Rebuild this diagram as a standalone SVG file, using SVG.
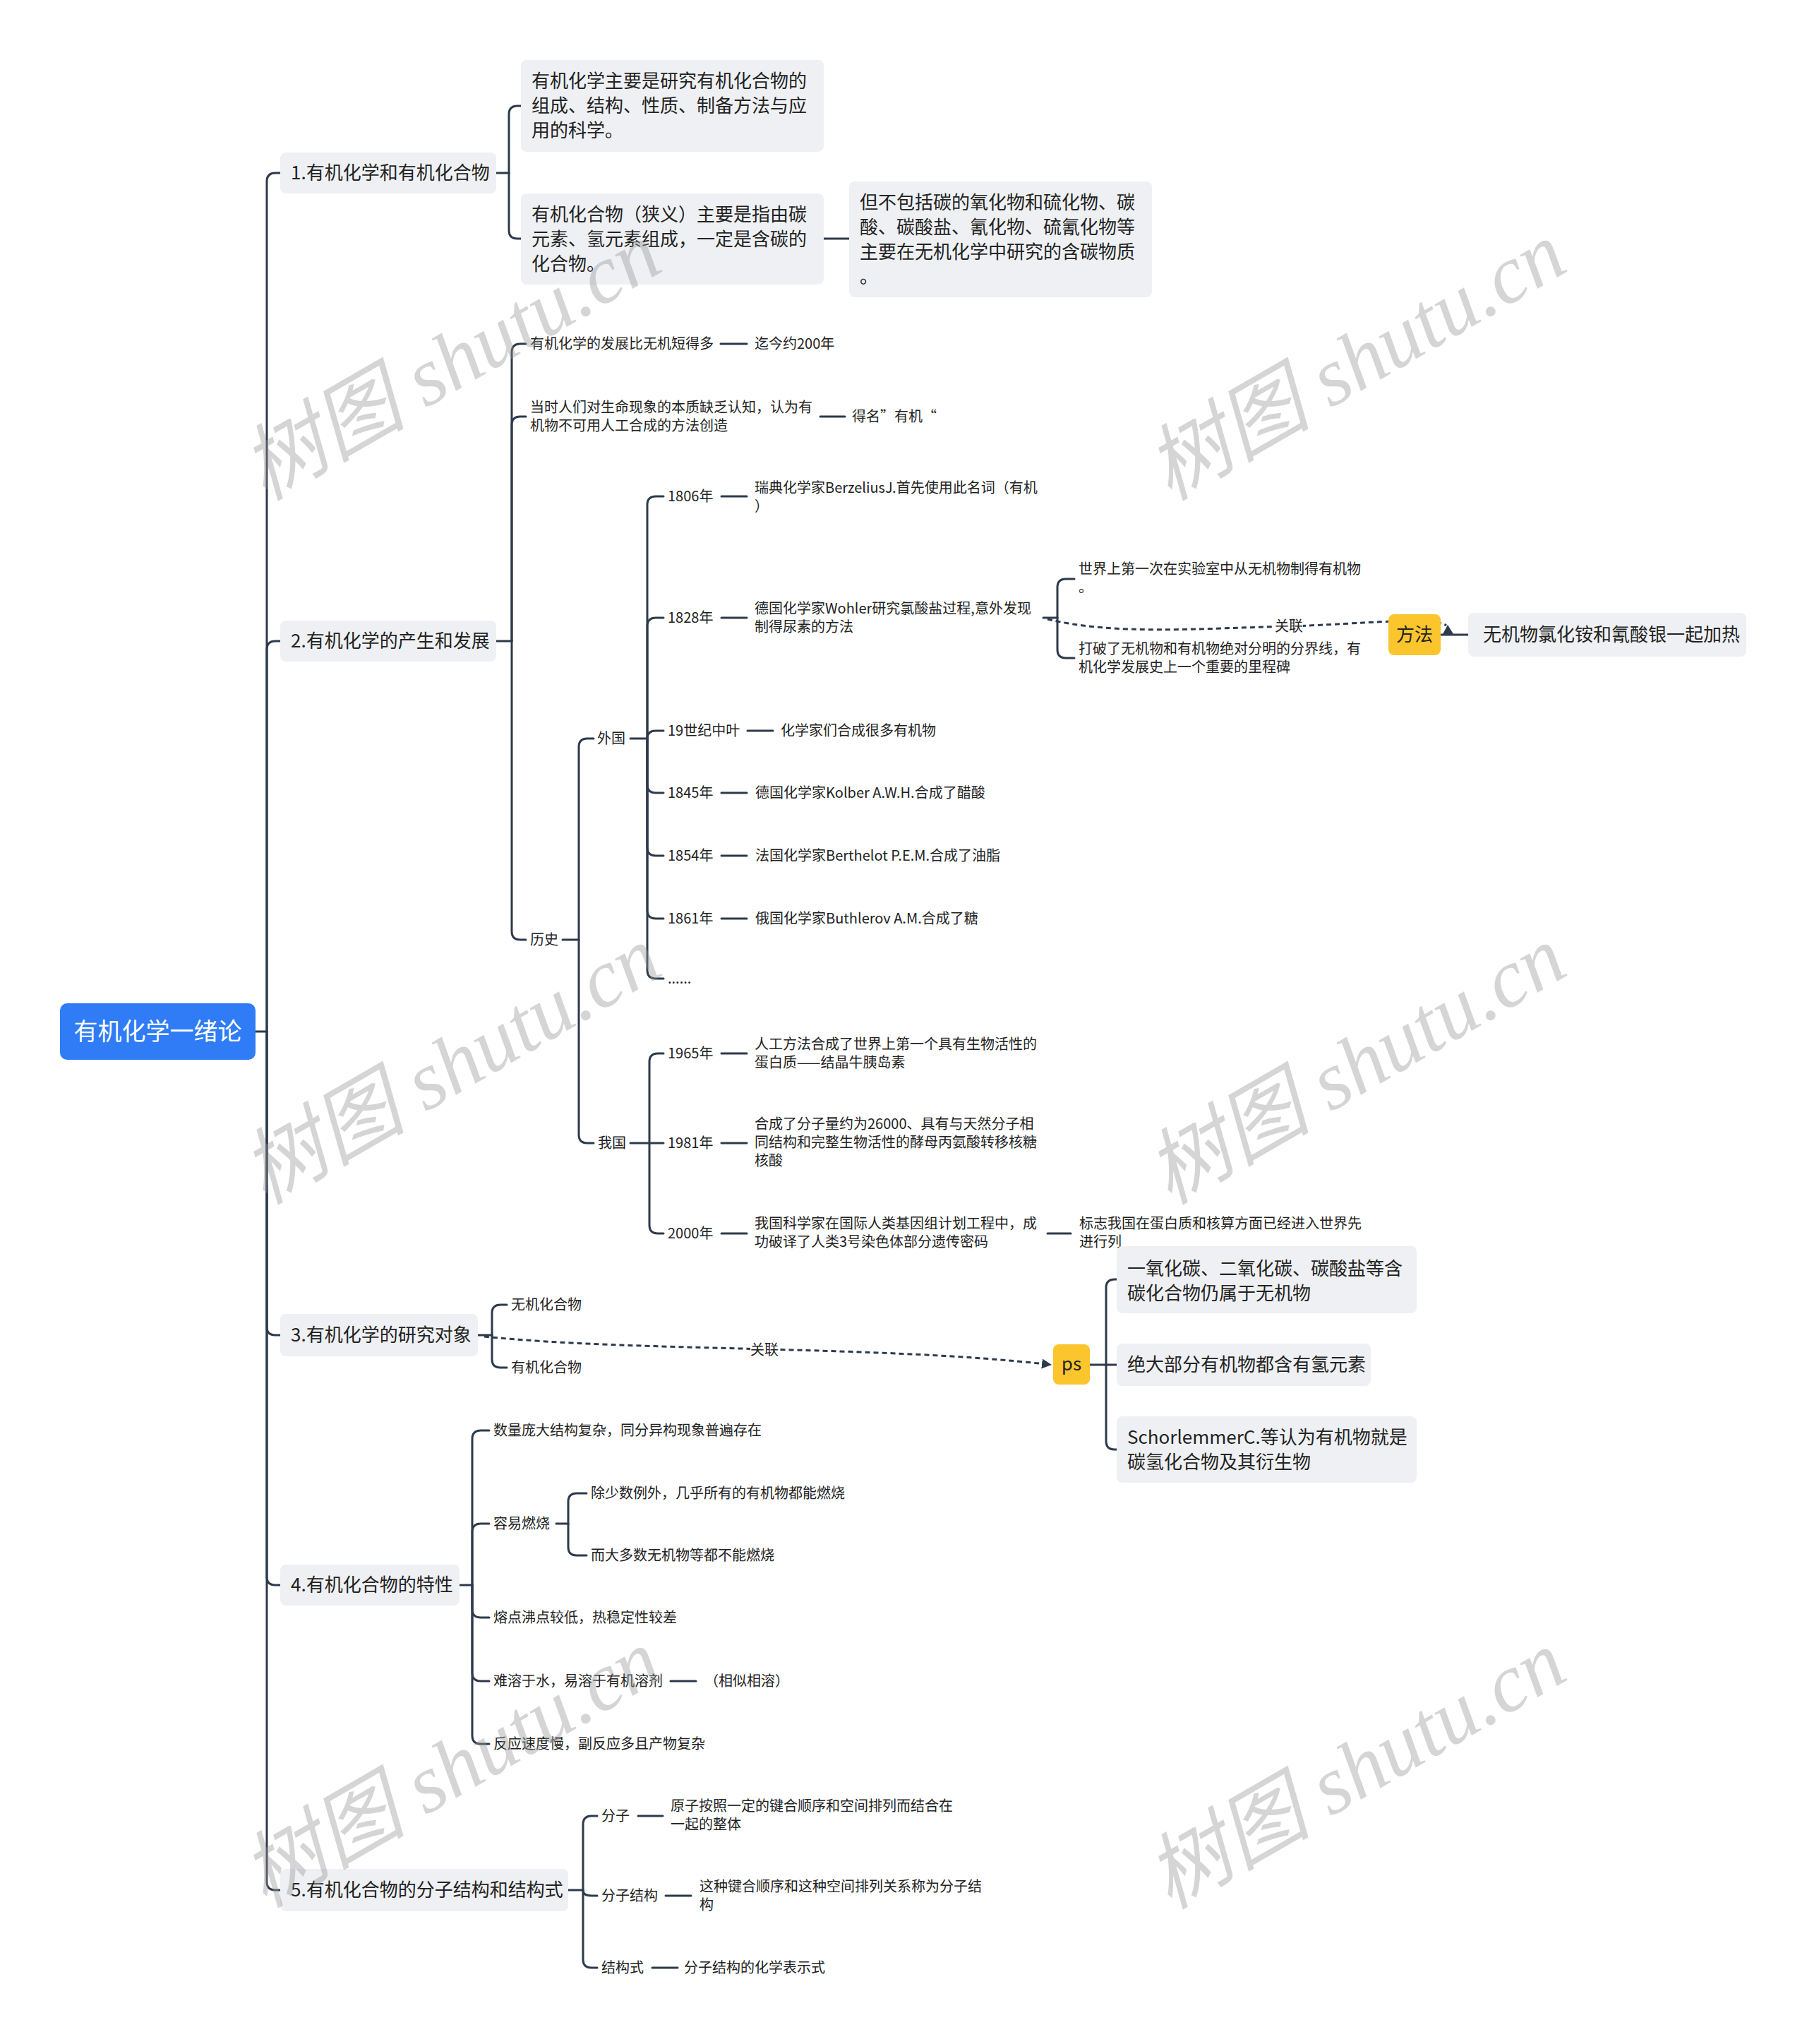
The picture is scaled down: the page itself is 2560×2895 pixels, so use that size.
<svg xmlns="http://www.w3.org/2000/svg" width="2560" height="2895" viewBox="0 0 2560 2895">
<style>
text{font-family:"Noto Sans CJK SC","Liberation Sans",sans-serif;fill:#222}
.s{font-size:20px}
.m{font-size:26px}
.l{fill:none;stroke:#2D3A4B;stroke-width:3;stroke-linecap:round;stroke-linejoin:round}
.d{fill:none;stroke:#2D3A4B;stroke-width:3;stroke-dasharray:7 5}
.b{fill:#EEF0F3}
.y{fill:#FBC52D}
.wm{font-family:"Liberation Serif","Noto Sans CJK SC",serif;font-style:italic;font-size:117px;fill:#969696;fill-opacity:0.4}
</style>
<defs>
<marker id="arr" markerWidth="16" markerHeight="16" refX="13" refY="8" orient="auto" markerUnits="userSpaceOnUse"><path d="M0,1 L14,8 L0,15 z" fill="#2D3A4B"/></marker>
</defs>
<rect width="2560" height="2895" fill="#FFFFFF"/>

<g id="connectors">
<path class="l" d="M362,1461 H378"/>
<path class="l" d="M378,1461 V257 Q378,245 390,245 H397"/>
<path class="l" d="M378,1461 V920 Q378,908 390,908 H397"/>
<path class="l" d="M378,1461 V1879 Q378,1891 390,1891 H397"/>
<path class="l" d="M378,1461 V2233 Q378,2245 390,2245 H397"/>
<path class="l" d="M378,1461 V2665 Q378,2677 390,2677 H397"/>
<path class="l" d="M703,245 H721"/>
<path class="l" d="M721,245 V162 Q721,150 733,150 H738"/>
<path class="l" d="M721,245 V326 Q721,338 733,338 H738"/>
<path class="l" d="M1167,338 H1203"/>
<path class="l" d="M703,908 H725"/>
<path class="l" d="M725,908 V499 Q725,487 737,487 H745"/>
<path class="l" d="M725,908 V602 Q725,590 737,590 H745"/>
<path class="l" d="M725,908 V1319 Q725,1331 737,1331 H745"/>
<path class="l" d="M1021,487 H1058"/>
<path class="l" d="M1162,590 H1197"/>
<path class="l" d="M797,1331 H820"/>
<path class="l" d="M820,1331 V1058 Q820,1046 832,1046 H841"/>
<path class="l" d="M820,1331 V1607 Q820,1619 832,1619 H841"/>
<path class="l" d="M893,1046 H917"/>
<path class="l" d="M917,1046 V715 Q917,703 929,703 H940"/>
<path class="l" d="M917,1046 V887 Q917,875 929,875 H940"/>
<path class="l" d="M917,1046 Q917,1035 929,1035 H940"/>
<path class="l" d="M917,1046 V1111 Q917,1123 929,1123 H940"/>
<path class="l" d="M917,1046 V1200 Q917,1212 929,1212 H940"/>
<path class="l" d="M917,1046 V1289 Q917,1301 929,1301 H940"/>
<path class="l" d="M917,1046 V1374 Q917,1386 929,1386 H940"/>
<path class="l" d="M1022,703 H1058"/>
<path class="l" d="M1022,875 H1058"/>
<path class="l" d="M1059,1035 H1095"/>
<path class="l" d="M1022,1123 H1058"/>
<path class="l" d="M1022,1212 H1058"/>
<path class="l" d="M1022,1301 H1058"/>
<path class="l" d="M1478,875 H1498"/>
<path class="l" d="M1498,875 V832 Q1498,820 1510,820 H1522"/>
<path class="l" d="M1498,875 V920 Q1498,932 1510,932 H1522"/>
<path class="l" d="M893,1619 H920"/>
<path class="l" d="M920,1619 V1504 Q920,1492 932,1492 H940"/>
<path class="l" d="M920,1619 H940"/>
<path class="l" d="M920,1619 V1735 Q920,1747 932,1747 H940"/>
<path class="l" d="M1022,1492 H1058"/>
<path class="l" d="M1022,1619 H1058"/>
<path class="l" d="M1022,1747 H1058"/>
<path class="l" d="M1484,1747 H1517"/>
<path class="l" d="M677,1891 H697"/>
<path class="l" d="M697,1891 V1860 Q697,1848 709,1848 H718"/>
<path class="l" d="M697,1891 V1925 Q697,1937 709,1937 H718"/>
<path class="l" d="M1544,1933 H1567"/>
<path class="l" d="M1567,1933 V1824 Q1567,1812 1579,1812 H1582"/>
<path class="l" d="M1567,1933 H1582"/>
<path class="l" d="M1567,1933 V2041 Q1567,2053 1579,2053 H1582"/>
<path class="l" d="M651,2245 H669"/>
<path class="l" d="M669,2245 V2038 Q669,2026 681,2026 H693"/>
<path class="l" d="M669,2245 V2170 Q669,2158 681,2158 H693"/>
<path class="l" d="M669,2245 V2279 Q669,2291 681,2291 H693"/>
<path class="l" d="M669,2245 V2369 Q669,2381 681,2381 H693"/>
<path class="l" d="M669,2245 V2458 Q669,2470 681,2470 H693"/>
<path class="l" d="M788,2158 H805"/>
<path class="l" d="M805,2158 V2127 Q805,2115 817,2115 H831"/>
<path class="l" d="M805,2158 V2191 Q805,2203 817,2203 H831"/>
<path class="l" d="M950,2381 H986"/>
<path class="l" d="M805,2677 H826"/>
<path class="l" d="M826,2677 V2584 Q826,2572 838,2572 H846"/>
<path class="l" d="M826,2677 Q826,2685 838,2685 H846"/>
<path class="l" d="M826,2677 V2775 Q826,2787 838,2787 H846"/>
<path class="l" d="M904,2572 H939"/>
<path class="l" d="M943,2685 H979"/>
<path class="l" d="M924,2787 H960"/>
<path class="l" d="M2041,899 H2080"/>
<path class="d" d="M1484,877 C1580,900 1700,890 1825,887 C1930,884 2030,872 2049,886"/>
<polygon points="2051,885 2044,898 2059,898" fill="#2D3A4B"/>
<rect x="1806" y="876" width="40" height="22" fill="#FFFFFF"/>
<text class="s" x="1826" y="894" text-anchor="middle">关联</text>
<path class="d" d="M686,1893 C900,1915 1250,1905 1489,1933" marker-end="url(#arr)"/>
<rect x="1063" y="1901" width="40" height="22" fill="#FFFFFF"/>
<text class="s" x="1083" y="1919" text-anchor="middle">关联</text>
</g>

<g id="root">
<rect x="85" y="1421" width="277" height="80" rx="10" fill="#2F7CF6"/>
<text x="223.5" y="1473" text-anchor="middle" style="font-size:34px;fill:#FFFFFF">有机化学一绪论</text>
</g>

<g id="n1">
<rect class="b" x="397" y="216" width="306" height="58" rx="8"/>
<text class="m" x="412" y="254">1.有机化学和有机化合物</text>
</g>
<g id="n1a">
<rect class="b" x="738" y="85" width="429" height="130" rx="8"/>
<text class="m" x="753" y="124">有机化学主要是研究有机化合物的</text>
<text class="m" x="753" y="159">组成、结构、性质、制备方法与应</text>
<text class="m" x="753" y="194">用的科学。</text>
</g>
<g id="n1b">
<rect class="b" x="738" y="274" width="429" height="129" rx="8"/>
<text class="m" x="753" y="313">有机化合物（狭义）主要是指由碳</text>
<text class="m" x="753" y="348">元素、氢元素组成，一定是含碳的</text>
<text class="m" x="753" y="383">化合物。</text>
</g>
<g id="n1c">
<rect class="b" x="1203" y="257" width="429" height="164" rx="8"/>
<text class="m" x="1218" y="296">但不包括碳的氧化物和硫化物、碳</text>
<text class="m" x="1218" y="331">酸、碳酸盐、氰化物、硫氰化物等</text>
<text class="m" x="1218" y="366">主要在无机化学中研究的含碳物质</text>
<text class="m" x="1218" y="401">。</text>
</g>

<g id="n2">
<rect class="b" x="397" y="879" width="306" height="58" rx="8"/>
<text class="m" x="412" y="917">2.有机化学的产生和发展</text>
</g>
<g id="n2-1"><text class="s" x="751" y="494">有机化学的发展比无机短得多</text></g>
<g id="n2-1a"><text class="s" x="1069" y="494">迄今约200年</text></g>
<g id="n2-2"><text class="s" x="751" y="584">当时人们对生命现象的本质缺乏认知，认为有</text><text class="s" x="751" y="610">机物不可用人工合成的方法创造</text></g>
<g id="n2-2a"><text class="s" x="1207" y="597">得名”有机“</text></g>
<g id="n2-3"><text class="s" x="751" y="1338">历史</text></g>
<g id="n-wg"><text class="s" x="846" y="1053">外国</text></g>
<g id="n-1806"><text class="s" x="946" y="710">1806年</text></g>
<g id="n-1806a"><text class="s" x="1069" y="698">瑞典化学家BerzeliusJ.首先使用此名词（有机</text><text class="s" x="1069" y="724">）</text></g>
<g id="n-1828"><text class="s" x="946" y="882">1828年</text></g>
<g id="n-1828a"><text class="s" x="1069" y="869">德国化学家Wohler研究氯酸盐过程,意外发现</text><text class="s" x="1069" y="895">制得尿素的方法</text></g>
<g id="n-1828b"><text class="s" x="1528" y="813">世界上第一次在实验室中从无机物制得有机物</text><text class="s" x="1528" y="839">。</text></g>
<g id="n-1828c"><text class="s" x="1528" y="926">打破了无机物和有机物绝对分明的分界线，有</text><text class="s" x="1528" y="952">机化学发展史上一个重要的里程碑</text></g>
<g id="n-19c"><text class="s" x="946" y="1042">19世纪中叶</text></g>
<g id="n-19ca"><text class="s" x="1106" y="1042">化学家们合成很多有机物</text></g>
<g id="n-1845"><text class="s" x="946" y="1130">1845年</text></g>
<g id="n-1845a"><text class="s" x="1070" y="1130">德国化学家Kolber A.W.H.合成了醋酸</text></g>
<g id="n-1854"><text class="s" x="946" y="1219">1854年</text></g>
<g id="n-1854a"><text class="s" x="1070" y="1219">法国化学家Berthelot P.E.M.合成了油脂</text></g>
<g id="n-1861"><text class="s" x="946" y="1308">1861年</text></g>
<g id="n-1861a"><text class="s" x="1070" y="1308">俄国化学家Buthlerov A.M.合成了糖</text></g>
<g id="n-dots"><text class="s" x="946" y="1393">......</text></g>
<g id="n-wog"><text class="s" x="847" y="1626">我国</text></g>
<g id="n-1965"><text class="s" x="946" y="1499">1965年</text></g>
<g id="n-1965a"><text class="s" x="1069" y="1486">人工方法合成了世界上第一个具有生物活性的</text><text class="s" x="1069" y="1512">蛋白质——结晶牛胰岛素</text></g>
<g id="n-1981"><text class="s" x="946" y="1626">1981年</text></g>
<g id="n-1981a"><text class="s" x="1069" y="1599">合成了分子量约为26000、具有与天然分子相</text><text class="s" x="1069" y="1625">同结构和完整生物活性的酵母丙氨酸转移核糖</text><text class="s" x="1069" y="1651">核酸</text></g>
<g id="n-2000"><text class="s" x="946" y="1754">2000年</text></g>
<g id="n-2000a"><text class="s" x="1069" y="1740">我国科学家在国际人类基因组计划工程中，成</text><text class="s" x="1069" y="1766">功破译了人类3号染色体部分遗传密码</text></g>
<g id="n-2000b"><text class="s" x="1529" y="1740">标志我国在蛋白质和核算方面已经进入世界先</text><text class="s" x="1529" y="1766">进行列</text></g>

<g id="n-ff">
<rect class="y" x="1967" y="870" width="74" height="58" rx="8"/>
<text class="m" x="2004" y="908" text-anchor="middle">方法</text>
</g>
<g id="n-ffa">
<rect class="b" x="2080" y="868" width="394" height="62" rx="8"/>
<text class="m" x="2101" y="908">无机物氯化铵和氰酸银一起加热</text>
</g>

<g id="n3">
<rect class="b" x="397" y="1861" width="280" height="60" rx="8"/>
<text class="m" x="412" y="1900">3.有机化学的研究对象</text>
</g>
<g id="n3-1"><text class="s" x="724" y="1855">无机化合物</text></g>
<g id="n3-2"><text class="s" x="724" y="1944">有机化合物</text></g>
<g id="n-ps">
<rect class="y" x="1492" y="1904" width="52" height="57" rx="8"/>
<text class="m" x="1518" y="1941" text-anchor="middle">ps</text>
</g>
<g id="n-ps1">
<rect class="b" x="1582" y="1765" width="425" height="95" rx="8"/>
<text class="m" x="1597" y="1806">一氧化碳、二氧化碳、碳酸盐等含</text>
<text class="m" x="1597" y="1841">碳化合物仍属于无机物</text>
</g>
<g id="n-ps2">
<rect class="b" x="1582" y="1903" width="360" height="60" rx="8"/>
<text class="m" x="1597" y="1942">绝大部分有机物都含有氢元素</text>
</g>
<g id="n-ps3">
<rect class="b" x="1582" y="2006" width="425" height="94" rx="8"/>
<text class="m" x="1597" y="2045">SchorlemmerC.等认为有机物就是</text>
<text class="m" x="1597" y="2080">碳氢化合物及其衍生物</text>
</g>

<g id="n4">
<rect class="b" x="397" y="2216" width="254" height="58" rx="8"/>
<text class="m" x="412" y="2254">4.有机化合物的特性</text>
</g>
<g id="n4-1"><text class="s" x="699" y="2033">数量庞大结构复杂，同分异构现象普遍存在</text></g>
<g id="n4-2"><text class="s" x="699" y="2165">容易燃烧</text></g>
<g id="n4-2a"><text class="s" x="837" y="2122">除少数例外，几乎所有的有机物都能燃烧</text></g>
<g id="n4-2b"><text class="s" x="837" y="2210">而大多数无机物等都不能燃烧</text></g>
<g id="n4-3"><text class="s" x="699" y="2298">熔点沸点较低，热稳定性较差</text></g>
<g id="n4-4"><text class="s" x="699" y="2388">难溶于水，易溶于有机溶剂</text></g>
<g id="n4-4a"><text class="s" x="998" y="2388">（相似相溶）</text></g>
<g id="n4-5"><text class="s" x="699" y="2477">反应速度慢，副反应多且产物复杂</text></g>

<g id="n5">
<rect class="b" x="397" y="2647" width="408" height="60" rx="8"/>
<text class="m" x="412" y="2686">5.有机化合物的分子结构和结构式</text>
</g>
<g id="n5-1"><text class="s" x="852" y="2579">分子</text></g>
<g id="n5-1a"><text class="s" x="950" y="2565">原子按照一定的键合顺序和空间排列而结合在</text><text class="s" x="950" y="2591">一起的整体</text></g>
<g id="n5-2"><text class="s" x="852" y="2692">分子结构</text></g>
<g id="n5-2a"><text class="s" x="991" y="2679">这种键合顺序和这种空间排列关系称为分子结</text><text class="s" x="991" y="2705">构</text></g>
<g id="n5-3"><text class="s" x="852" y="2794">结构式</text></g>
<g id="n5-3a"><text class="s" x="969" y="2794">分子结构的化学表示式</text></g>

<g id="watermarks">
<text class="wm" transform="translate(640,513) rotate(-30)" text-anchor="middle" y="38">树图 shutu.cn</text>
<text class="wm" transform="translate(1922,513) rotate(-30)" text-anchor="middle" y="38">树图 shutu.cn</text>
<text class="wm" transform="translate(640,1510) rotate(-30)" text-anchor="middle" y="38">树图 shutu.cn</text>
<text class="wm" transform="translate(1922,1510) rotate(-30)" text-anchor="middle" y="38">树图 shutu.cn</text>
<text class="wm" transform="translate(640,2506) rotate(-30)" text-anchor="middle" y="38">树图 shutu.cn</text>
<text class="wm" transform="translate(1922,2508) rotate(-30)" text-anchor="middle" y="38">树图 shutu.cn</text>
</g>
</svg>
